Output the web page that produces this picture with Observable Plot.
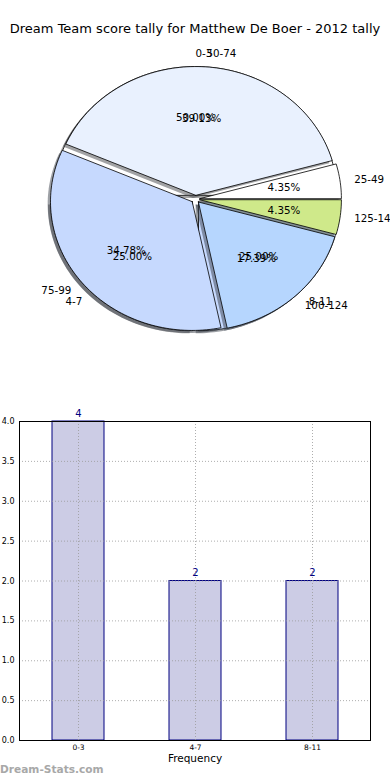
<!DOCTYPE html>
<html><head><meta charset="utf-8">
<script src="https://cdn.jsdelivr.net/npm/d3@7"></script>
<script src="https://cdn.jsdelivr.net/npm/@observablehq/plot@0.6"></script>
<style>
body{margin:0;background:#fff;font-family:"DejaVu Sans",sans-serif;}
#wrap{position:relative;width:390px;height:780px;overflow:hidden;background:#fff}
#title{position:absolute;top:21px;left:0;width:390px;text-align:center;font-size:13px;color:#000;white-space:nowrap}
#pie{position:absolute;top:0;left:0}
#bar{position:absolute;top:390px;left:0}
#wm{position:absolute;top:763px;left:0;font-size:10.6px;font-weight:bold;color:#a8a8a8;white-space:nowrap}
svg{font-family:"DejaVu Sans",sans-serif;overflow:visible}
</style></head>
<body><div id="wrap"><div id="title"></div><div id="pie"></div><div id="bar"></div><div id="wm">Dream-Stats.com</div></div>
<script>
const titleText = "Dream Team score tally for Matthew De Boer - 2012 tally";
const scoreRanges = ["25-49", "50-74", "75-99", "100-124", "125-149"];
const scoreCounts = [1, 9, 8, 4, 1];
const scoreColors = ["#ffffff", "#e9f1fe", "#c6d9fe", "#b6d6fe", "#cfe98a"];
const freqRanges = ["0-3", "4-7", "8-11"];
const freqCounts = [4, 2, 2];
const freqColors = ["#ffffff", "#e9f1fe", "#c6d9fe"];
const yTicks = [0, 0.5, 1, 1.5, 2, 2.5, 3, 3.5, 4];
const xLabel = "Frequency";

document.getElementById("title").textContent = titleText;

const EXPLODE = 0.03;
function buildPie(labels, values, colors, explode) {
  const total = d3.sum(values);
  let a = 0;
  const polys = [], shadows = [], labs = [];
  labels.forEach((lab, i) => {
    const a0 = a, a1 = a + values[i] / total * 2 * Math.PI; a = a1;
    const m = (a0 + a1) / 2;
    const cx = explode * Math.cos(m), cy = explode * Math.sin(m);
    const n = Math.max(2, Math.ceil((a1 - a0) / (Math.PI / 120)));
    const pts = [[cx, cy]];
    for (let k = 0; k <= n; k++) { const t = a0 + (a1 - a0) * k / n; pts.push([cx + Math.cos(t), cy + Math.sin(t)]); }
    pts.push([cx, cy]);
    const c = d3.rgb(colors[i]);
    const sh = d3.rgb(c.r * 0.3, c.g * 0.3, c.b * 0.3).formatHex();
    pts.forEach(p => {
      polys.push({id: lab, x: p[0], y: p[1], color: colors[i]});
      shadows.push({id: lab, x: p[0] - 0.02, y: p[1] - 0.02, color: sh});
    });
    const lx = cx + 1.1 * Math.cos(m), ly = cy + 1.1 * Math.sin(m);
    labs.push({label: lab, x: lx, y: ly, right: lx > 0,
      pct: (values[i] / total * 100).toFixed(2) + "%",
      px: cx + 0.6 * Math.cos(m), py: cy + 0.6 * Math.sin(m)});
  });
  return {polys, shadows, labs};
}
const p2 = buildPie(freqRanges, freqCounts, freqColors, EXPLODE);
const p1 = buildPie(scoreRanges, scoreCounts, scoreColors, EXPLODE);

function pieMarks(p) {
  return [
    Plot.line(p.shadows, {x: "x", y: "y", z: "id", fill: "color", fillOpacity: 0.5, stroke: "none", curve: "linear"}),
    Plot.line(p.polys, {x: "x", y: "y", z: "id", fill: "color", stroke: "black", strokeWidth: 0.8, curve: "linear", strokeLinejoin: "miter"})
  ];
}
function labelMarks(p) {
  return [
    Plot.text(p.labs.filter(d => d.right), {x: "x", y: "y", text: "label", textAnchor: "start", fontSize: 10.3, fill: "black"}),
    Plot.text(p.labs.filter(d => !d.right), {x: "x", y: "y", text: "label", textAnchor: "end", fontSize: 10.3, fill: "black"}),
    Plot.text(p.labs, {x: "px", y: "py", text: "pct", textAnchor: "middle", fontSize: 10.3, fill: "black"})
  ];
}

const pie = Plot.plot({
  width: 390, height: 390,
  marginTop: 0, marginRight: 0, marginBottom: 0, marginLeft: 0,
  x: {domain: [-1, 1], range: [53.3, 336.7], axis: null},
  y: {domain: [-1, 1], range: [327.5, 69.9], axis: null},
  color: {type: "identity"},
  marks: [
    ...pieMarks(p2),
    ...pieMarks(p1),
    ...labelMarks(p2),
    ...labelMarks(p1)
  ]
});
document.getElementById("pie").appendChild(pie);

const barData = freqRanges.map((r, i) => ({range: r, count: freqCounts[i]}));
const bar = Plot.plot({
  width: 390, height: 390,
  marginTop: 31, marginRight: 20, marginBottom: 40, marginLeft: 19,
  x: {domain: freqRanges, paddingInner: 0.556, paddingOuter: 0.278, axis: null},
  y: {domain: [0, 4], axis: null},
  marks: [
    Plot.barY(barData, {x: "range", y: "count", fill: "#ccccE5", stroke: "#000080", strokeWidth: 1, inset: 0}),
    Plot.gridY(yTicks, {stroke: "#999", strokeOpacity: 1, strokeWidth: 0.8, strokeDasharray: "1,2"}),
    Plot.gridX(freqRanges, {stroke: "#999", strokeOpacity: 1, strokeWidth: 0.8, strokeDasharray: "1,2"}),
    Plot.frame({stroke: "black", strokeWidth: 1}),
    Plot.axisY(yTicks, {tickFormat: d3.format(".1f"), tickSize: 0, tickPadding: 5, fontSize: 8, label: null}),
    Plot.axisX(freqRanges, {tickSize: 0, tickPadding: 4, fontSize: 7.5, label: null}),
    Plot.text([xLabel], {frameAnchor: "bottom", dy: 21, fontSize: 10.5, fill: "black"}),
    Plot.text(barData, {x: "range", y: "count", text: d => String(d.count), dy: -8, fill: "#000080", fontSize: 10})
  ]
});
document.getElementById("bar").appendChild(bar);
</script>
</body></html>
